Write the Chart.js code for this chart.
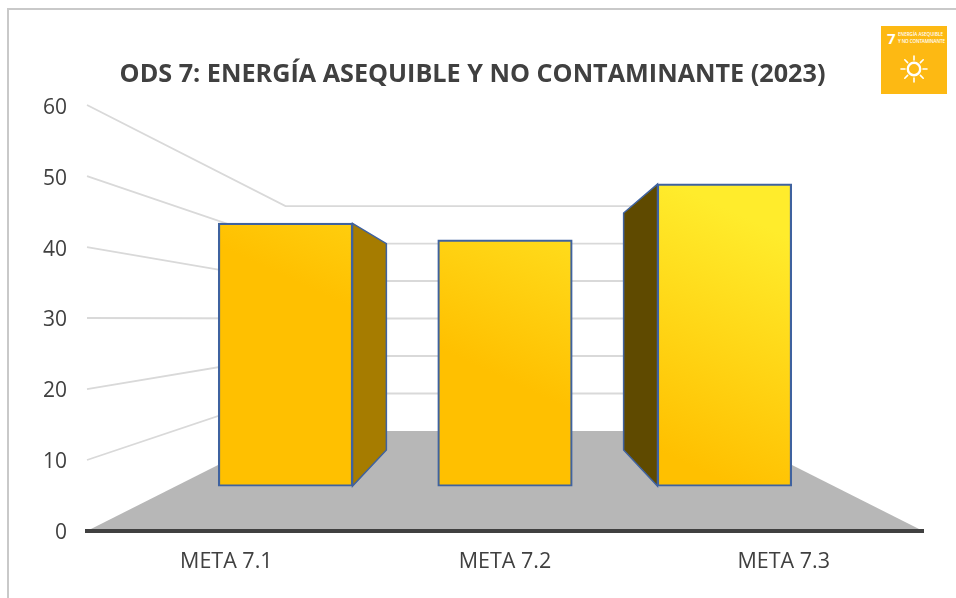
<!DOCTYPE html>
<html lang="es">
<head>
<meta charset="utf-8">
<title>ODS 7</title>
<script src="https://cdn.jsdelivr.net/npm/chart.js@4/dist/chart.umd.min.js"></script>
<style>
html,body{margin:0;padding:0;background:#fff;overflow:hidden}
#stage{position:relative;width:956px;height:598px;overflow:hidden}
#frame{position:absolute;left:7px;top:8px;width:960px;height:600px;border-left:2px solid #c9c9c9;border-top:2px solid #c9c9c9}
#c{position:absolute;left:0;top:0}
#logo{position:absolute;left:881px;top:26px;width:66px;height:68px}
</style>
</head>
<body>
<div id="stage">
  <div id="frame"></div>
  <canvas id="c" width="956" height="598"></canvas>
  <svg id="logo" viewBox="0 0 66 68" xmlns="http://www.w3.org/2000/svg">
    <rect width="66" height="68" fill="#fdb913"/>
    <text x="6" y="18" font-family="Open Sans" font-weight="700" font-size="15" fill="#fff">7</text>
    <text x="17" y="10" font-family="Open Sans" font-weight="600" font-size="4.6" fill="#fff" textLength="45">ENERGÍA ASEQUIBLE</text>
    <text x="17" y="17" font-family="Open Sans" font-weight="600" font-size="4.6" fill="#fff" textLength="47">Y NO CONTAMINANTE</text>
    <g stroke="#fff" stroke-width="1.6" stroke-linecap="round" fill="none">
      <circle cx="33" cy="43" r="6.2" stroke-width="2.4"/>
      <path d="M33 30v4M33 52v4M20 43h4M42 43h4M23.8 33.8l2.8 2.8M39.4 49.4l2.8 2.8M23.8 52.2l2.8-2.8M39.4 36.6l2.8-2.8"/>
    </g>
  </svg>
</div>
<script>
const chartTitle = 'ODS 7: ENERGÍA ASEQUIBLE Y NO CONTAMINANTE (2023)';
const categories = ['META 7.1', 'META 7.2', 'META 7.3'];
const metaValues = [47, 44, 54];
const yTickValues = [0, 10, 20, 30, 40, 50, 60];

const inkColor = '#404040';
const gridColor = '#d9d9d9';
const floorColor = '#b7b7b7';
const edgeColor = '#3f629f';
const sideLeftColor = '#5f4a00';
const sideRightColor = '#a67c00';
const depthRatio = 0.778;

const scene3d = {
  id: 'scene3d',
  beforeDatasetsDraw(chart) {
    const { ctx, chartArea: a, scales } = chart;
    const yFront = scales.yFront, yWall = scales.yWall, yDepth = scales.yDepth, xBar = scales.xBar;
    const wallL = xBar.getPixelForValue(0);
    const wallR = xBar.getPixelForValue(categories.length - 1);
    const mid = xBar.getPixelForValue((categories.length - 1) / 2);

    ctx.save();
    // floor
    ctx.fillStyle = floorColor;
    ctx.beginPath();
    ctx.moveTo(a.left, yFront.getPixelForValue(0));
    ctx.lineTo(a.right, yFront.getPixelForValue(0));
    ctx.lineTo(wallR, yWall.getPixelForValue(0));
    ctx.lineTo(wallL, yWall.getPixelForValue(0));
    ctx.closePath();
    ctx.fill();

    // wall gridlines
    ctx.strokeStyle = gridColor;
    ctx.lineWidth = 1.8;
    yTickValues.forEach(v => {
      if (v === 0) return;
      ctx.beginPath();
      ctx.moveTo(a.left, yFront.getPixelForValue(v));
      ctx.lineTo(wallL, yWall.getPixelForValue(v));
      ctx.lineTo(wallR, yWall.getPixelForValue(v));
      ctx.stroke();
    });

    // bar sides
    const meta = chart.getDatasetMeta(0);
    meta.data.forEach((bar, i) => {
      const half = bar.width / 2;
      const dir = Math.sign(bar.x - mid);
      if (dir === 0) return;
      const xf = dir < 0 ? bar.x + half : bar.x - half;
      const xb = mid + (xf - mid) * depthRatio;
      ctx.beginPath();
      ctx.moveTo(xf, bar.y);
      ctx.lineTo(xb, yDepth.getPixelForValue(metaValues[i]));
      ctx.lineTo(xb, yDepth.getPixelForValue(0));
      ctx.lineTo(xf, bar.base);
      ctx.closePath();
      ctx.fillStyle = dir < 0 ? sideRightColor : sideLeftColor;
      ctx.fill();
      ctx.strokeStyle = edgeColor;
      ctx.lineWidth = 1.5;
      ctx.stroke();
    });
    ctx.restore();
  }
};

new Chart(document.getElementById('c').getContext('2d'), {
  type: 'bar',
  data: {
    labels: categories,
    datasets: [{
      label: 'ODS 7',
      xAxisID: 'xBar',
      yAxisID: 'yBar',
      data: metaValues.map((v, i) => ({ x: i, y: v })),
      barThickness: 134,
      borderWidth: 2.2,
      borderSkipped: false,
      inflateAmount: 0.6,
      borderColor: edgeColor,
      backgroundColor(ctx) {
        const g = ctx.chart.ctx.createLinearGradient(700, 470, 805, 245);
        g.addColorStop(0, '#ffc000');
        g.addColorStop(1, '#ffec2c');
        return g;
      }
    }]
  },
  options: {
    responsive: false,
    animation: false,
    layout: { padding: { left: 22, right: 33, top: 0, bottom: 0 } },
    plugins: {
      legend: { display: false },
      tooltip: { enabled: false },
      title: {
        display: true,
        text: chartTitle,
        color: inkColor,
        font: { family: 'Open Sans', size: 25.2, weight: '700' },
        padding: { top: 60, bottom: 14.8 }
      }
    },
    scales: {
      x: {
        type: 'category',
        labels: categories,
        position: 'bottom',
        offset: true,
        afterFit(s) { s.height = 67; },
        border: { display: true, color: inkColor, width: 4, z: 1 },
        grid: { drawOnChartArea: false, drawTicks: false, tickLength: 0 },
        ticks: { color: inkColor, padding: 18, maxRotation: 0, font: { family: 'Open Sans', size: 21.5 } }
      },
      xBar: { type: 'linear', display: false, min: -0.9045, max: 2.9045, offset: false, grid: { display: false } },
      y: {
        position: 'left',
        min: 0.24,
        max: 60.45,
        afterBuildTicks(s) { s.ticks = yTickValues.map(value => ({ value })); },
        afterFit(s) { s.width = 65; },
        border: { display: false },
        grid: { drawOnChartArea: false, drawTicks: false },
        ticks: { color: inkColor, padding: 20, font: { family: 'Open Sans', size: 21 } }
      },
      yFront: { display: false, min: 0, max: 60, grid: { display: false } },
      yWall: { display: false, min: -26.667, max: 86.933, grid: { display: false } },
      yBar: { display: false, min: -8.05, max: 68.16, grid: { display: false } },
      yDepth: { display: false, min: -18.45, max: 78.59, grid: { display: false } }
    }
  },
  plugins: [scene3d]
});
</script>
</body>
</html>
